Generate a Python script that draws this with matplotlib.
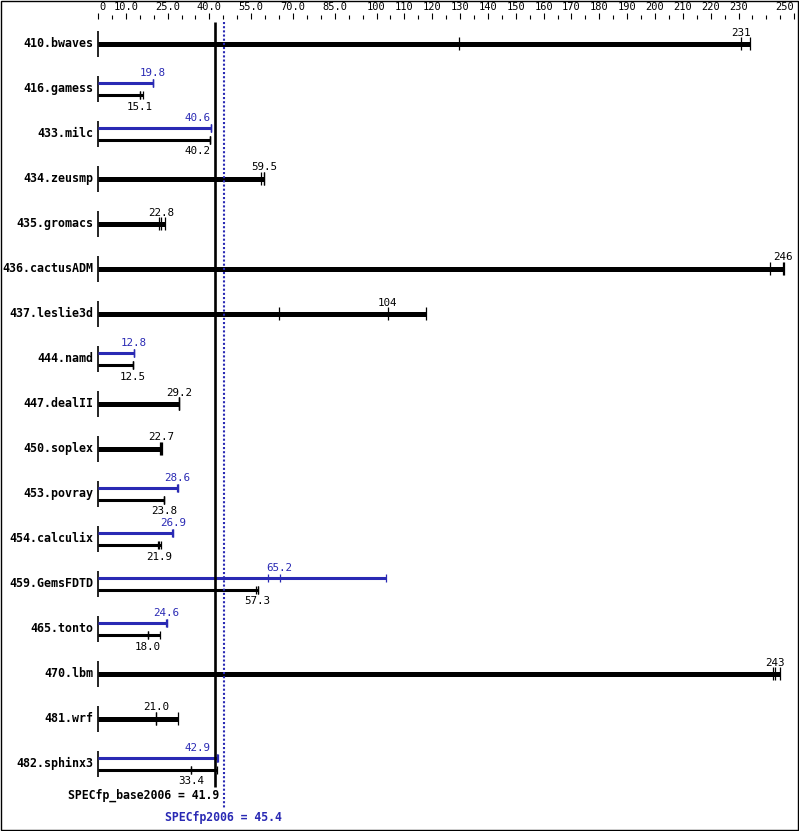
import matplotlib
matplotlib.use("Agg")
import matplotlib.pyplot as plt

names = ["410.bwaves", "416.gamess", "433.milc", "434.zeusmp", "435.gromacs",
         "436.cactusADM", "437.leslie3d", "444.namd", "447.dealII", "450.soplex",
         "453.povray", "454.calculix", "459.GemsFDTD", "465.tonto", "470.lbm",
         "481.wrf", "482.sphinx3"]

# base ratio (median) and the three base runs
base_ratio = [231, 15.1, 40.2, 59.5, 22.8, 246, 104, 12.5, 29.2, 22.7,
              23.8, 21.9, 57.3, 18.0, 243, 21.0, 33.4]
base_runs = [[129.7, 231, 234.1], [15.0, 15.1, 16.2], [40.1, 40.2, 40.3],
             [58.7, 59.5, 59.6], [21.8, 22.8, 24.1], [241.3, 246, 246.2],
             [65.1, 104, 117.9], [12.4, 12.5, 12.5], [29.1, 29.2, 29.2],
             [22.3, 22.7, 22.9], [23.7, 23.8, 23.8], [21.4, 21.9, 22.6],
             [56.7, 57.3, 57.4], [18.0, 18.0, 22.3], [242.4, 243, 244.9],
             [20.9, 21.0, 28.7], [33.3, 33.4, 42.7]]

# peak ratio (median) and runs, None where peak == base
peak_ratio = [None, 19.8, 40.6, None, None, None, None, 12.8, None, None,
              28.6, 26.9, 65.2, 24.6, None, None, 42.9]
peak_runs = [None, [19.7, 19.8, 19.8], [40.5, 40.6, 40.7], None, None, None, None,
             [12.8, 12.8, 12.9], None, None, [28.5, 28.6, 28.7],
             [26.7, 26.9, 26.9], [60.9, 65.2, 103.3], [24.5, 24.6, 24.6],
             None, None, [42.9, 42.9, 43.2]]

tick_labels = [0, 10, 25, 40, 55, 70, 85, 100, 110, 120, 130, 140, 150, 160,
               170, 180, 190, 200, 210, 220, 230, 250]
specfp_base = 41.9
specfp_peak = 45.4

BLUE = "#2a2ab4"
W, H = 799, 831
X0, SC = 98.0, 2.785          # pixel of value 0, pixels per unit

fig = plt.figure(figsize=(W / 100, H / 100), dpi=100)
ax = fig.add_axes([0, 0, 1, 1])
ax.set_xlim(-X0 / SC, (W - X0) / SC)
ax.set_ylim(H, 0)
ax.axis("off")

# frame
fig.patches.append(plt.Rectangle((0.5 / W, 1.5 / H), 797 / W, 829 / H,
                                 transform=fig.transFigure, fill=False,
                                 lw=1, ec="black"))

mono = "DejaVu Sans Mono"

# top scale
for v in range(0, 251, 5):
    major = v in tick_labels
    ax.vlines(v, 12.5 if major else 15, 18.5, color="black", lw=0.8)
for v in tick_labels:
    lab = str(v) if (v == 0 or v >= 100) else "%.1f" % v
    shift = 1.5 if v == 0 else (-3.5 if v == 250 else 0)
    ax.text(v + shift, 7.5, lab, ha="center", va="center",
            fontsize=7.5, family=mono)

def num_label(v, y, color):
    if abs(v - specfp_base) < 4.5:
        ax.text(specfp_base - 1.5, y, "%.1f" % v, ha="right", va="center",
                fontsize=7.8, family=mono, color=color)
    else:
        lab = "%d" % round(v) if v >= 100 else "%.1f" % v
        ax.text(v, y, lab, ha="center", va="center",
                fontsize=7.8, family=mono, color=color)

for i, name in enumerate(names):
    yc = 43.5 + 45 * i
    ax.text(-1.8, yc, name, ha="right", va="center", fontsize=8.4,
            family=mono, fontweight="bold")
    ax.vlines(0, yc - 13, yc + 13, color="black", lw=1.2)
    if peak_runs[i] is None:
        runs = base_runs[i]
        ax.hlines(yc, 0, max(runs), color="black", lw=3.6)
        ax.vlines(runs, yc - 6.5, yc + 6.5, color="black", lw=0.9)
        num_label(base_ratio[i], yc - 11, "black")
    else:
        yp, yb = yc - 6, yc + 6
        pr = peak_runs[i]
        ax.hlines(yp, 0, max(pr), color=BLUE, lw=2.2)
        ax.vlines(pr, yp - 4, yp + 4, color=BLUE, lw=0.9)
        num_label(peak_ratio[i], yc - 15.5, BLUE)
        br = base_runs[i]
        ax.hlines(yb, 0, max(br), color="black", lw=2.2)
        ax.vlines(br, yb - 4, yb + 4, color="black", lw=0.9)
        num_label(base_ratio[i], yc + 18, "black")

# overall means
ax.vlines(specfp_base, 22, 787, color="black", lw=1.9)
ax.vlines(specfp_peak, 22, 808, color=BLUE, lw=1.5, linestyles=(0, (1, 1)))
ax.text(specfp_base + 1.5, 795, "SPECfp_base2006 = %.1f" % specfp_base,
        ha="right", va="center", fontsize=8.3, family=mono, fontweight="bold")
ax.text(specfp_peak - 0.5, 817, "SPECfp2006 = %.1f" % specfp_peak,
        ha="center", va="center", fontsize=8.3, family=mono,
        fontweight="bold", color=BLUE)

fig.savefig("out.png", dpi=100)
